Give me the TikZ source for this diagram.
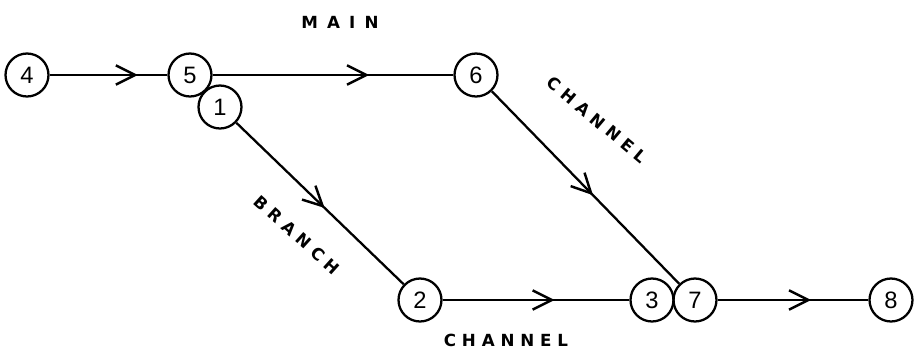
\documentclass[tikz,border=0pt]{standalone}
\usepackage{fontspec}
\setmainfont{Liberation Sans}
\newfontfamily\lblfont[LetterSpace=35]{DejaVu Sans Bold}
\newfontfamily\mainlblfont[LetterSpace=55]{DejaVu Sans Bold}
\usetikzlibrary{arrows.meta,decorations.markings}
\begin{document}
\begin{tikzpicture}[x=0.02cm,y=-0.02cm,
  evt/.style={circle,draw,line width=1.3pt,minimum size=0.86cm,inner sep=0pt,font=\fontsize{13.5}{13.5}\selectfont},
  conn/.style={line width=1.3pt},
  midarr/.style={postaction={decorate},decoration={markings,mark=at position #1 with {\arrow{Straight Barb[length=11pt,width=11pt,line width=1.4pt]}}}},
  lbl/.style={font=\lblfont\fontsize{9.5}{9.5}\selectfont,inner sep=0pt},
  mainlbl/.style={font=\mainlblfont\fontsize{9.5}{9.5}\selectfont,inner sep=0pt}]
\useasboundingbox (0,0) rectangle (921,356);
\node[evt] (n4) at (27,75) {4};
\node[evt] (n5) at (190,75) {5};
\node[evt] (n1) at (220,107) {1};
\node[evt] (n6) at (476,75) {6};
\node[evt] (n2) at (420,300) {2};
\node[evt] (n3) at (652,300) {3};
\node[evt] (n7) at (695,300) {7};
\node[evt] (n8) at (891,300) {8};
\draw[conn,midarr=0.75] (n4) -- (n5);
\draw[conn,midarr=0.65] (n5) -- (n6);
\draw[conn,midarr=0.54] (n6) -- (n7);
\draw[conn,midarr=0.53] (n1) -- (n2);
\draw[conn,midarr=0.6] (n2) -- (n3);
\draw[conn,midarr=0.62] (n7) -- (n8);
\node[mainlbl] (tmain) at (340,22) {MAIN};
\node[lbl,rotate=-40] (tch1) at (597,120) {CHANNEL};
\node[lbl,rotate=-42] (tbr) at (297,235) {BRANCH};
\node[lbl] (tch2) at (506,340) {CHANNEL};
\end{tikzpicture}
\end{document}
